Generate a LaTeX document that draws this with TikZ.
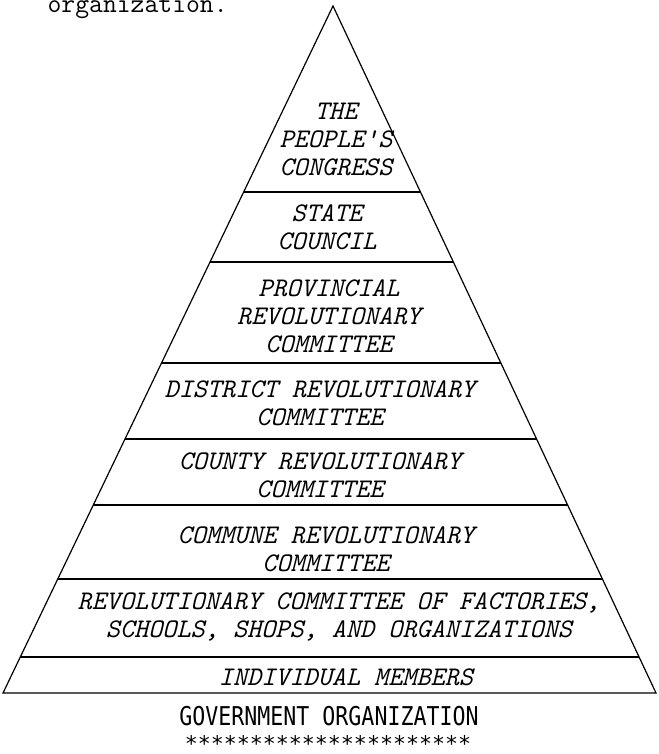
\documentclass[tikz,border=0pt]{standalone}
\usepackage{fontspec}
\newfontfamily\gothicfont{DejaVu Sans Mono}
\usetikzlibrary{calc}

\tikzset{
    tier/.style={font=\ttfamily\itshape\addfontfeatures{FakeBold=1.2}\fontsize{26.9}{28}\selectfont,
                 align=center, inner sep=0pt},
    caption/.style={font=\gothicfont\fontsize{21.6}{24}\selectfont, inner sep=0pt},
}

\begin{document}
\begin{tikzpicture}[x=1pt,y=-1pt,line width=1.2pt]
    \useasboundingbox (0,0) rectangle (658,754);
    \clip (0,0) rectangle (658,754);

    % running text above the figure
    \node[anchor=base west,inner sep=0pt,
          font=\ttfamily\addfontfeatures{FakeBold=1.2}\fontsize{26.9}{28}\selectfont]
        (runon) at (47,13) {organization.};

    % the pyramid
    \coordinate (top) at (333,6);
    \coordinate (bl) at (3,693);
    \coordinate (br) at (656,693);
    \draw[line join=miter] (bl) -- (top) -- (br) -- cycle;
    \foreach \y in {192,262,363,439,505,579,657}
        \draw ($(top)!{(\y-6)/687}!(bl)$) -- ($(top)!{(\y-6)/687}!(br)$);

    % one node per level
    \node[tier] (congress) at (336,139) {THE\\PEOPLE'S\\CONGRESS};
    \node[tier] (council) at (327,227) {STATE\\COUNCIL};
    \node[tier] (province) at (329,316) {PROVINCIAL\\REVOLUTIONARY\\COMMITTEE};
    \node[tier] (district) at (320,403) {DISTRICT REVOLUTIONARY\\COMMITTEE};
    \node[tier] (county) at (320,475) {COUNTY REVOLUTIONARY\\COMMITTEE};
    \node[tier] (commune) at (326,549) {COMMUNE REVOLUTIONARY\\COMMITTEE};
    \node[tier] (factory) at (339,617)
        {REVOLUTIONARY COMMITTEE OF FACTORIES,\\SCHOOLS, SHOPS, AND ORGANIZATIONS};
    \node[tier] (members) at (346,677) {INDIVIDUAL MEMBERS};

    % title under the pyramid
    \node[caption] (title) at (329,716) {\scalebox{1}[1.2]{GOVERNMENT ORGANIZATION}};
    \node[caption,anchor=base] (stars) at (328,751) {**********************};
\end{tikzpicture}
\end{document}
